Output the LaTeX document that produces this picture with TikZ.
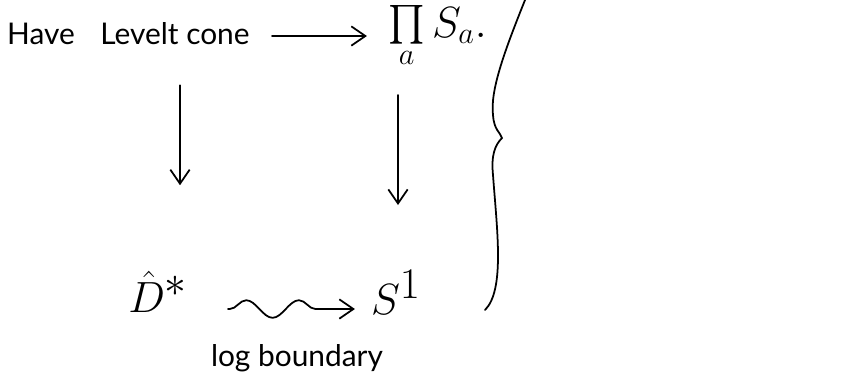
\documentclass[tikz,border=0pt]{standalone}
\usepackage{fontspec}
\setmainfont{Lato}
\usetikzlibrary{arrows.meta,decorations.pathmorphing}
\tikzset{
  hand/.style={font=\fontsize{17}{19}\selectfont, inner sep=1pt},
  bigmath/.style={font=\fontsize{40}{42}\selectfont, inner sep=1pt},
  mapto/.style={-{Straight Barb[length=8pt,width=11pt]}, line width=1pt, line cap=round},
  wavy/.style={mapto, decorate, decoration={snake, amplitude=5pt, segment length=30pt, post length=8pt, pre length=1pt}},
  curly/.style={line width=1pt, line cap=round}
}
\begin{document}
\begin{tikzpicture}[x=0.02cm, y=-0.02cm]
  \useasboundingbox (0,0) rectangle (862,387);
  \node[hand, anchor=west] (have) at (5,34) {Have};
  \node[hand] (levelt) at (175,34) {Levelt cone};
  \node[font=\fontsize{26}{28}\selectfont, inner sep=0pt, anchor=north west] (prod) at (388,5)
    {$\mathop{\raisebox{-0.25em}{\scalebox{2.2}{$\prod$}}}\limits_{a} S_{a}.$};
  \node[bigmath] (dhat) at (158,292) {$\hat{D}^{*}$};
  \node[bigmath] (s1) at (396,292) {$S^{1}$};
  \draw[mapto] (272,36) coordinate (l1) -- ([xshift=-12pt]prod.west |- l1);
  \draw[mapto] (levelt.south) ++(5,38) coordinate (d1) -- ++(0,100) coordinate (d2);
  \draw[mapto] (398,95) coordinate (r1) -- (398,205) coordinate (r2);
  \draw[wavy] (228,309) coordinate (w1) -- ([xshift=-8pt]s1.west |- w1);
  \node[hand] (lab) at (297,358) {log boundary};
  \draw[curly] (525,0) .. controls (505,50) and (490,90) .. (493,115)
     .. controls (494,130) and (500,132) .. (502,138)
     .. controls (495,145) and (491,155) .. (493,175)
     .. controls (497,230) and (505,290) .. (485,310);
\end{tikzpicture}
\end{document}
